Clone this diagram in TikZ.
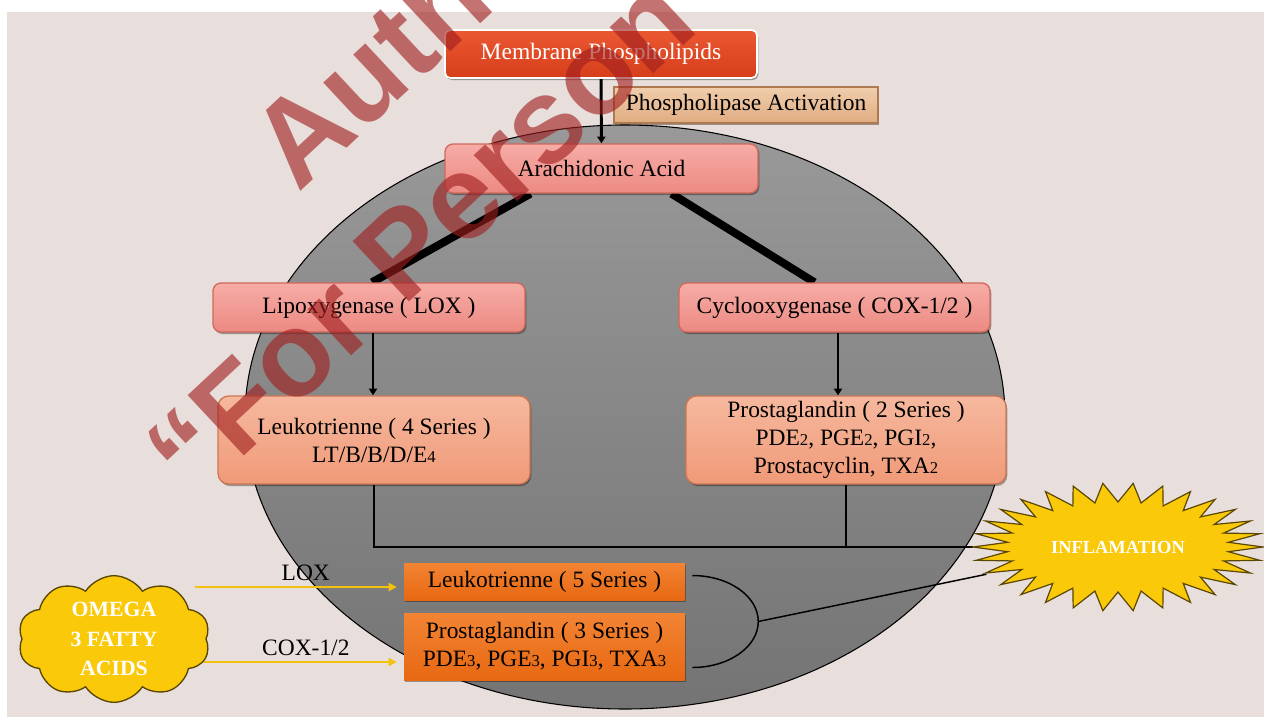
\documentclass[tikz,border=0pt]{standalone}
\usepackage{fontspec}
\setmainfont{Liberation Serif}
\newfontfamily\wmfont{Liberation Sans}
\usetikzlibrary{arrows.meta,shapes.symbols,shapes.geometric,shadows,calc}
\pgfdeclarelayer{back}
\pgfdeclarelayer{bg}
\pgfdeclarelayer{front}
\pgfsetlayers{back,bg,main,front}
\definecolor{panel}{RGB}{232,223,220}
\definecolor{memtop}{RGB}{234,88,50}
\definecolor{membot}{RGB}{214,62,26}
\definecolor{pltop}{RGB}{240,206,172}
\definecolor{plbot}{RGB}{224,172,130}
\definecolor{pledge}{RGB}{176,122,80}
\definecolor{pktop}{RGB}{246,172,166}
\definecolor{pkbot}{RGB}{236,138,130}
\definecolor{pkedge}{RGB}{208,104,92}
\definecolor{sltop}{RGB}{246,184,158}
\definecolor{slbot}{RGB}{240,154,120}
\definecolor{sledge}{RGB}{204,120,84}
\definecolor{ortop}{RGB}{242,132,52}
\definecolor{orbot}{RGB}{232,104,18}
\definecolor{gold}{RGB}{250,202,10}
\definecolor{goldedge}{RGB}{90,70,0}
\definecolor{yarrow}{RGB}{243,194,14}
\definecolor{wmred}{RGB}{160,30,30}
\definecolor{elltop}{RGB}{153,153,153}
\definecolor{ellbot}{RGB}{116,116,116}
\newcommand{\lowsub}[1]{{\fontsize{12.5}{12.5}\selectfont #1}}
\tikzset{
  sz/.style 2 args={minimum width={#1*0.75pt},minimum height={#2*0.75pt}},
  txt/.style={font=\fontsize{17.6}{21}\selectfont,align=center,inner sep=0pt},
  shad/.style={drop shadow={shadow xshift=1pt,shadow yshift=-1.5pt,opacity=0.35,fill=black}},
  membox/.style={txt,shad,rounded corners=4pt,draw=white,line width=1.2pt,top color=memtop,bottom color=membot,text=white},
  plbox/.style={txt,shad,draw=pledge,line width=1pt,top color=pltop,bottom color=plbot},
  pinkbox/.style={txt,shad,rounded corners=6pt,draw=pkedge,line width=1pt,top color=pktop,bottom color=pkbot},
  salbox/.style={txt,shad,rounded corners=8pt,draw=sledge,line width=1pt,top color=sltop,bottom color=slbot},
  orbox/.style={txt,shad,top color=ortop,bottom color=orbot},
  arr/.style={line width=2.2pt,-{Triangle[length=5pt,width=6pt]}},
  fatline/.style={line width=6pt},
  thinline/.style={line width=1.1pt},
  yarr/.style={draw=yarrow,line width=1.5pt,-{Triangle[length=6pt,width=6pt]}},
  wm/.style={font=\wmfont\bfseries\fontsize{90}{90}\selectfont,text=wmred,opacity=0.62,text opacity=0.62,inner sep=0pt}
}
\begin{document}
\begin{tikzpicture}[x=0.75pt,y=-0.75pt]
\useasboundingbox (0,0) rectangle (1264,719);
\begin{pgfonlayer}{back}
\fill[white] (0,0) rectangle (1264,719);
\fill[panel] (7,12) rectangle (1264,717);
\draw[black,line width=0.8pt,top color=elltop,bottom color=ellbot] (625,417) ellipse [x radius=380, y radius=292];
\end{pgfonlayer}

% boxes
\node[membox,sz={312}{48}] (mem) at (601,54) {Membrane Phospholipids};
\node[plbox,sz={264}{36}] (pla) at (746,105) {Phospholipase Activation};
\node[pinkbox,sz={313}{49}] (ara) at (601.5,168.5) {Arachidonic Acid};
\node[pinkbox,sz={312}{49}] (lox) at (369,307.5) {Lipoxygenase ( LOX )};
\node[pinkbox,sz={311}{49}] (cox) at (834.5,307.5) {Cyclooxygenase ( COX-1/2 )};
\node[salbox,sz={312}{88}] (lt4) at (374,440) {Leukotrienne ( 4 Series )\\LT/B/B/D/E\lowsub{4}};
\node[salbox,sz={320}{88}] (pg2) at (846,440) {Prostaglandin ( 2 Series )\\PDE\lowsub{2}, PGE\lowsub{2}, PGI\lowsub{2},\\Prostacyclin, TXA\lowsub{2}};
\node[orbox,sz={281}{37}] (lt5) at (544.5,581.5) {Leukotrienne ( 5 Series )};
\node[orbox,sz={281}{67}] (pg3) at (544.5,646.5) {Prostaglandin ( 3 Series )\\PDE\lowsub{3}, PGE\lowsub{3}, PGI\lowsub{3}, TXA\lowsub{3}};

% omega cloud
\node[cloud,cloud puffs=10,cloud puff arc=115,aspect=1.6,draw=goldedge,line width=1pt,fill=gold,sz={192}{110},inner sep=0pt,text=white,font=\bfseries\fontsize{16.3}{22}\selectfont,align=center] (omega) at (114,639) {OMEGA\\3 FATTY\\ACIDS};

% inflammation starburst
\draw[fill=gold,draw=goldedge,line width=0.9pt] plot[samples at={0,1,...,59},variable=\i] ({1118+cos(\i*6)*(mod(\i,2)==0?145:111)},{547+sin(\i*6)*(mod(\i,2)==0?64:45)}) -- cycle;
\node[ellipse,sz={290}{128},inner sep=0pt,text=white,font=\bfseries\fontsize{13.8}{14}\selectfont] (infl) at (1118,547) {INFLAMATION};

% connectors
\begin{pgfonlayer}{bg}
\draw[arr] (mem) -- (ara);
\draw[fatline] ($(ara.south)+(-71,0)$) -- ($(lox.north)+(3,0)$);
\draw[fatline] ($(ara.south)+(70,0)$) -- ($(cox.north)+(-20,0)$);
\coordinate (a1) at ($(lox.south)+(4,0)$);
\coordinate (a2) at ($(cox.south)+(3.5,0)$);
\draw[arr] (a1) -- (a1 |- lt4.north);
\draw[arr] (a2) -- (a2 |- pg2.north);
\draw[thinline] (lt4.south) |- (infl.west);
\draw[thinline] (pg2.south) -- (pg2.south |- infl.west);
\coordinate (bt) at ($(lt5.east)+(7,-6)$);
\coordinate (bm) at ($(bt)+(66,46)$);
\draw[thinline] (bt) arc[start angle=-90,end angle=90,x radius=66,y radius=46];
\draw[thinline] (bm) -- (infl);
\coordinate (y1) at ($(lt5.west)+(-7,5.5)$);
\coordinate (y2) at ($(pg3.west)+(-7,15.5)$);
\coordinate (o1) at ($(omega.east)+(-12,0)$);
\draw[yarr] (o1 |- y1) -- node[txt,pos=0.55,above=4pt] (loxl) {LOX} (y1);
\draw[yarr] (o1 |- y2) -- node[txt,pos=0.55,above=4pt] (coxl) {COX-1/2} (y2);
\end{pgfonlayer}

% watermark
\begin{pgfonlayer}{front}
\begin{scope}
\clip (0,0) rectangle (1264,719);
\node[wm,anchor=base west,rotate=43] (wm1) at (298,194) {Auth};
\node[wm,anchor=base west,rotate=43] (wm2) at (194,503) {“For Person};
\end{scope}
\end{pgfonlayer}
\end{tikzpicture}
\end{document}
